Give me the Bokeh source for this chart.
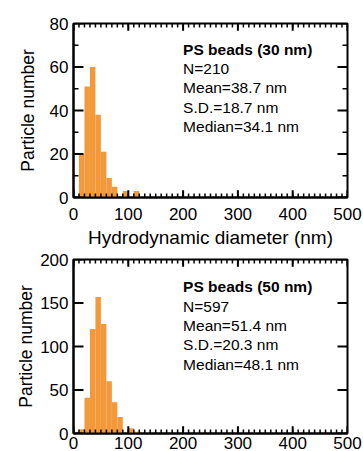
from bokeh.plotting import figure
from bokeh.layouts import column
from bokeh.models import SingleIntervalTicker, Range1d, Label
from bokeh.embed import file_html
from bokeh.resources import INLINE

# ---- data ----
bin_edges = [0, 10, 20, 30, 40, 50, 60, 70, 80, 90, 100, 110, 120, 130]
counts_30 = [0, 20, 51, 60, 38, 21, 9, 5, 0, 3, 0, 3, 0]
counts_50 = [0, 5, 41, 120, 157, 126, 60, 36, 19, 0, 6, 2, 0]
stats_30 = ["PS beads (30 nm)", "N=210", "Mean=38.7 nm", "S.D.=18.7 nm", "Median=34.1 nm"]
stats_50 = ["PS beads (50 nm)", "N=597", "Mean=51.4 nm", "S.D.=20.3 nm", "Median=48.1 nm"]

x_major_ticks = [0, 100, 200, 300, 400, 500]
x_minor_ticks = list(range(0, 501, 10))
y_major_ticks_30 = [0, 20, 40, 60, 80]
y_minor_ticks_30 = [10, 30, 50, 70]
y_major_ticks_50 = [0, 50, 100, 150, 200]
y_minor_ticks_50 = []

ORANGE = "#F4993A"
FONT = "Liberation Sans"
XMAX = 500
FRAME_W = 363 - 73 - 16   # approx. frame size in px, to turn tick lengths into data units
FRAME_H = 170


def add_ticks(p, xs, ys, ymax, xlen, ylen, width):
    """Inward ticks on all four sides of the frame."""
    dy = xlen * ymax / FRAME_H
    dx = ylen * XMAX / FRAME_W
    if xs:
        n = len(xs)
        p.segment(x0=xs, x1=xs, y0=[0] * n, y1=[dy] * n, line_color="black", line_width=width)
        p.segment(x0=xs, x1=xs, y0=[ymax] * n, y1=[ymax - dy] * n, line_color="black", line_width=width)
    if ys:
        n = len(ys)
        p.segment(x0=[0] * n, x1=[dx] * n, y0=ys, y1=ys, line_color="black", line_width=width)
        p.segment(x0=[XMAX] * n, x1=[XMAX - dx] * n, y0=ys, y1=ys, line_color="black", line_width=width)


def make_panel(counts, ymax, yinterval, ymaj, ymin, stats, height, top_border, xlabel,
               xlabel_standoff, ylabel_standoff, text_y_top, text_dy):
    p = figure(width=363, height=height, output_backend="svg", toolbar_location=None,
               x_range=Range1d(0, XMAX), y_range=Range1d(0, ymax),
               min_border_left=73, min_border_right=16, min_border_top=top_border,
               min_border_bottom=0)
    p.xgrid.visible = False
    p.ygrid.visible = False
    p.outline_line_color = "black"
    p.outline_line_width = 2
    p.background_fill_color = "white"
    p.border_fill_color = "white"

    p.quad(left=bin_edges[:-1], right=bin_edges[1:], top=counts, bottom=0,
           fill_color=ORANGE, line_color=None)

    add_ticks(p, x_minor_ticks, ymin, ymax, 4, 5, 1.5)
    add_ticks(p, x_major_ticks, ymaj, ymax, 7, 10, 2)

    p.xaxis.ticker = SingleIntervalTicker(interval=100, num_minor_ticks=0)
    p.yaxis.ticker = SingleIntervalTicker(interval=yinterval, num_minor_ticks=0)
    for ax in (p.xaxis[0], p.yaxis[0]):
        ax.axis_line_color = "black"
        ax.axis_line_width = 2
        ax.major_tick_in = 0
        ax.major_tick_out = 0
        ax.minor_tick_line_color = None
        ax.major_label_text_font = FONT
        ax.major_label_text_font_size = "17px"
        ax.major_label_text_color = "black"
        ax.axis_label_text_font = FONT
        ax.axis_label_text_font_style = "normal"
        ax.axis_label_text_color = "black"
    p.xaxis.major_label_standoff = xlabel_standoff
    p.yaxis.major_label_standoff = 5
    if xlabel:
        p.xaxis.axis_label = xlabel
        p.xaxis.axis_label_standoff = 4
        p.xaxis.axis_label_text_font_size = "19px"
    p.yaxis.axis_label = "Particle number"
    p.yaxis.axis_label_standoff = ylabel_standoff
    p.yaxis.axis_label_text_font_size = "17.5px"

    for i, s in enumerate(stats):
        p.add_layout(Label(x=200, y=text_y_top - i * text_dy, text=s,
                           text_font=FONT, text_font_size="15.5px",
                           text_font_style="bold" if i == 0 else "normal",
                           text_baseline="middle", text_align="left",
                           text_color="black"))
    return p


p1 = make_panel(counts_30, 80, 20, y_major_ticks_30, y_minor_ticks_30, stats_30,
                height=250, top_border=23,
                xlabel="Hydrodynamic diameter (nm)", xlabel_standoff=10, ylabel_standoff=9,
                text_y_top=68.2, text_dy=8.9)
p2 = make_panel(counts_50, 200, 50, y_major_ticks_50, y_minor_ticks_50, stats_50,
                height=201, top_border=9,
                xlabel=None, xlabel_standoff=3, ylabel_standoff=1,
                text_y_top=168.4, text_dy=22.2)

layout = column(p1, p2, spacing=0)
open("out.html", "w").write(file_html(layout, INLINE))
